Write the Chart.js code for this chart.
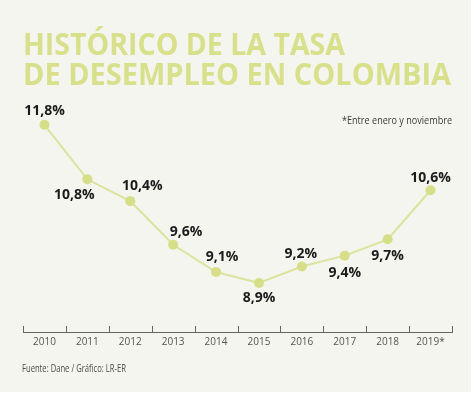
<!DOCTYPE html>
<html><head><meta charset="utf-8">
<script src="https://cdn.jsdelivr.net/npm/chart.js@4"></script>
<style>html,body{margin:0;padding:0;background:#ffffff;}#wrap{width:474px;height:395px;position:relative;}</style>
</head><body><div id="wrap"><canvas id="c" width="474" height="395"></canvas></div>
<script>
const years = ['2010','2011','2012','2013','2014','2015','2016','2017','2018','2019*'];
const rates = [11.8, 10.8, 10.4, 9.6, 9.1, 8.9, 9.2, 9.4, 9.7, 10.6];
const valueLabels = ['11,8%','10,8%','10,4%','9,6%','9,1%','8,9%','9,2%','9,4%','9,7%','10,6%'];
const titleLines = ['HISTÓRICO DE LA TASA','DE DESEMPLEO EN COLOMBIA'];
const noteText = '*Entre enero y noviembre';
const sourceText = 'Fuente: Dane / Gráfico: LR-ER';

// label placement (style only): vertical offset of label centre from point, horizontal shift
const labelDy = [-14.5, 14.5, -16, -14, -16, 14, -14, 16, 16, -13];
const labelDx = [0, -13, 12, 13, 6, 0, -1, 0, 0, 0];

const GREEN = '#d9e08c';
const BG = '#f3f5ee';

const decor = {
  id: 'decor',
  beforeDraw(chart) {
    const ctx = chart.ctx;
    ctx.save();
    ctx.fillStyle = BG;
    ctx.fillRect(0, 0, 471, 392);
    // title
    ctx.fillStyle = GREEN;
    ctx.font = 'bold 31px "Open Sans"';
    ctx.textBaseline = 'alphabetic';
    ctx.textAlign = 'left';
    ctx.fillText(titleLines[0], 23, 55, 322);
    ctx.fillText(titleLines[1], 23, 85, 428);
    // note
    ctx.fillStyle = '#3a3a3a';
    ctx.font = '10px "Open Sans"';
    ctx.textAlign = 'right';
    ctx.fillText(noteText, 452, 124, 110);
    // source
    ctx.textAlign = 'left';
    ctx.fillStyle = '#4a4a4a';
    ctx.fillText(sourceText, 22, 372, 104);
    ctx.restore();
  },
  afterDraw(chart) {
    const ctx = chart.ctx;
    const x = chart.scales.x;
    const area = chart.chartArea;
    ctx.save();
    // tick marks at category boundaries, pointing up
    ctx.strokeStyle = '#666';
    ctx.lineWidth = 1;
    const half = (x.getPixelForValue(1) - x.getPixelForValue(0)) / 2;
    for (let i = 0; i <= years.length; i++) {
      const px = Math.round(x.getPixelForValue(i) - half) + 0.5;
      ctx.beginPath();
      ctx.moveTo(px, area.bottom);
      ctx.lineTo(px, area.bottom - 6);
      ctx.stroke();
    }
    // value labels
    const meta = chart.getDatasetMeta(0);
    ctx.fillStyle = '#1b1b1b';
    ctx.font = 'bold 14px "Open Sans"';
    ctx.textAlign = 'center';
    ctx.textBaseline = 'alphabetic';
    meta.data.forEach((pt, i) => {
      ctx.fillText(valueLabels[i], pt.x + labelDx[i], pt.y + labelDy[i] + 5);
    });
    ctx.restore();
  }
};

new Chart(document.getElementById('c'), {
  type: 'line',
  data: {
    labels: years,
    datasets: [{
      data: rates,
      borderColor: '#dce39c',
      borderWidth: 2,
      pointBackgroundColor: '#d6de88',
      pointBorderWidth: 0,
      pointRadius: 5,
      tension: 0,
      clip: false
    }]
  },
  options: {
    responsive: false,
    animation: false,
    devicePixelRatio: 1,
    layout: { padding: { top: 103, left: 23, right: 22, bottom: 0 } },
    plugins: { legend: { display: false }, tooltip: { enabled: false }, title: { display: false } },
    scales: {
      x: {
        offset: true,
        grid: { display: false, drawTicks: false },
        border: { display: true, color: '#666', width: 1 },
        ticks: { color: '#555', font: { family: 'Open Sans', size: 10 }, padding: 4, maxRotation: 0, autoSkip: false },
        afterFit(scale) { scale.height = 63; }
      },
      y: {
        display: false,
        min: 8,
        max: 12.2
      }
    }
  },
  plugins: [decor]
});
</script>
</body></html>
